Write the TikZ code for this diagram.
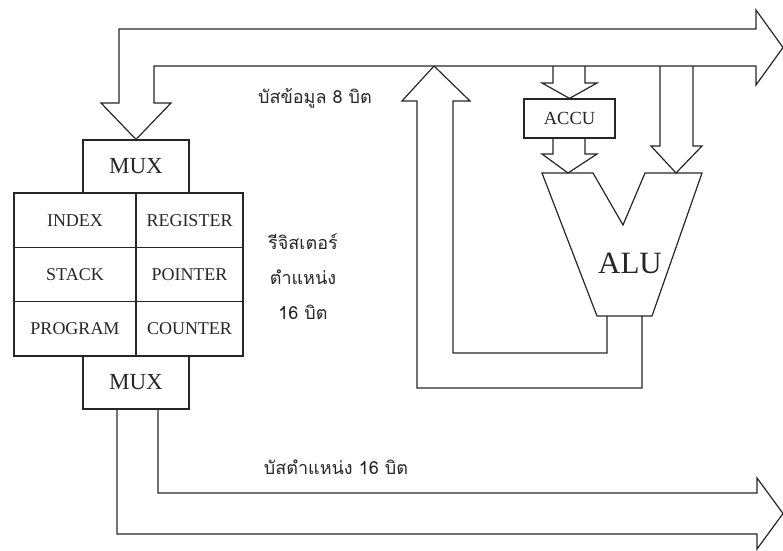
\documentclass[tikz,border=0pt]{standalone}
\usepackage{fontspec}
\setmainfont{Liberation Serif}
\newfontfamily\thaifont[Script=Thai]{Loma}
\begin{document}
\begin{tikzpicture}[x=1pt,y=-1pt,
  line width=1.2pt, draw=black!85, text=black!85,
  muxbox/.style={draw, minimum width=106pt, minimum height=53pt, inner sep=0pt, font=\fontsize{23}{25}\selectfont},
  cellL/.style={draw, minimum width=122pt, minimum height=54.33pt, inner sep=0pt, font=\fontsize{18}{20}\selectfont},
  cellR/.style={draw, minimum width=107pt, minimum height=54.33pt, inner sep=0pt, font=\fontsize{18}{20}\selectfont},
  thailabel/.style={font=\thaifont\fontsize{18}{35}\selectfont, align=center},
  bus/.style={draw, line join=miter}]
\useasboundingbox (0,0) rectangle (783,550);

% MUX boxes and register table
\node[muxbox] (mux1) at (136,166.5) {MUX};
\node[cellL] (idx) at (75,220.2) {INDEX};
\node[cellR] (reg) at (189.5,220.2) {REGISTER};
\node[cellL] (stk) at (75,274.5) {STACK};
\node[cellR] (ptr) at (189.5,274.5) {POINTER};
\node[cellL] (prg) at (75,328.8) {PROGRAM};
\node[cellR] (cnt) at (189.5,328.8) {COUNTER};
\node[muxbox] (mux2) at (136,382.5) {MUX};

% ACCU
\node[draw, minimum width=91pt, minimum height=39pt, inner sep=0pt,
      font=\fontsize{18.5}{20}\selectfont] (accu) at (569.5,118.5) {ACCU};

% ALU
\draw[line join=miter] (542,173) -- (593,173) -- (623,225) -- (645,173) -- (702,173)
  -- (652,316) -- (597,316) -- cycle;
\node[font=\fontsize{31}{33}\selectfont] (alu) at (630,263) {ALU};
\coordinate (aluL) at (607,316);
\coordinate (aluR) at (642,316);

% data bus (top)
\draw[bus] (mux1.north) -- (101,103) -- (119,103) -- (119,29) -- (756,29) -- (756,10)
  -- (783,47.5) -- (756,85) -- (756,66) -- (154,66) -- (154,103) -- (171,103) -- cycle;

% return arrow from ALU to data bus
\draw[bus] (434,66) -- (402,101) -- (417,101) -- (417,388) -- (642,388) -- (aluR);
\draw[bus] (434,66) -- (470,101) -- (453,101) -- (453,353) -- (607,353) -- (aluL);

% data bus to ACCU
\draw[bus] (553,66) -- (553,83) -- (542,83) -- (accu.north) -- (597,83) -- (585,83) -- (585,66);
% ACCU to ALU
\draw[bus] (553,138) -- (553,154) -- (542,154) -- (568,173) -- (597,154) -- (585,154) -- (585,138);
% data bus to ALU right input
\draw[bus] (660,66) -- (660,146) -- (651,146) -- (676,173) -- (702,146) -- (693,146) -- (693,66);

% address bus (bottom)
\draw[bus] (117,409) -- (117,534) -- (757,534) -- (757,549) -- (783,513.5) -- (757,478)
  -- (757,493) -- (158,493) -- (158,409);

% labels
\node[thailabel] (dbus) at (315,98) {บัสข้อมูล 8 บิต};
\node[thailabel] (regl) at (303,277) {รีจิสเตอร์\\ตำแหน่ง\\16 บิต};
\node[thailabel] (abus) at (336,467) {บัสตำแหน่ง 16 บิต};
\end{tikzpicture}
\end{document}
